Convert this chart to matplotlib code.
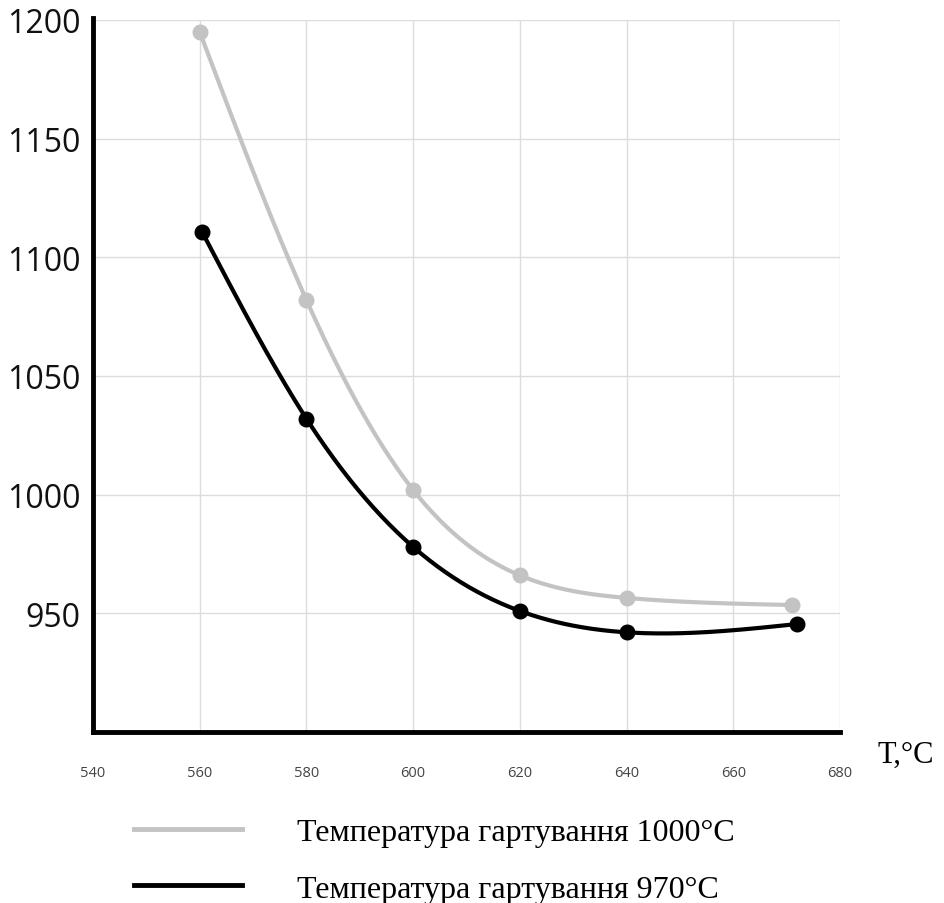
import numpy as np
import matplotlib
matplotlib.use("Agg")
import matplotlib.pyplot as plt
from matplotlib.lines import Line2D

# Data
x_1000 = [560, 580, 600, 620, 640, 671]
y_1000 = [1195, 1082, 1002, 966, 956.5, 953.5]
x_970 = [560.5, 580, 600, 620, 640, 672]
y_970 = [1110.5, 1032, 978, 951, 942, 945.5]

x_ticks = [540, 560, 580, 600, 620, 640, 660, 680]
y_ticks = [950, 1000, 1050, 1100, 1150, 1200]
labels = ["Температура гартування 1000°C", "Температура гартування 970°C"]


def natural_spline(x, y, n=300):
    x = np.asarray(x, float)
    y = np.asarray(y, float)
    k = len(x)
    h = np.diff(x)
    A = np.zeros((k, k))
    b = np.zeros(k)
    A[0, 0] = 1
    A[-1, -1] = 1
    for i in range(1, k - 1):
        A[i, i - 1] = h[i - 1]
        A[i, i] = 2 * (h[i - 1] + h[i])
        A[i, i + 1] = h[i]
        b[i] = 6 * ((y[i + 1] - y[i]) / h[i] - (y[i] - y[i - 1]) / h[i - 1])
    M = np.linalg.solve(A, b)
    xs = np.linspace(x[0], x[-1], n)
    ys = np.empty_like(xs)
    for j, xv in enumerate(xs):
        i = min(np.searchsorted(x, xv) - 1, k - 2)
        i = max(i, 0)
        t1 = x[i + 1] - xv
        t0 = xv - x[i]
        hi = h[i]
        ys[j] = (M[i] * t1 ** 3 / (6 * hi) + M[i + 1] * t0 ** 3 / (6 * hi)
                 + (y[i] / hi - M[i] * hi / 6) * t1
                 + (y[i + 1] / hi - M[i + 1] * hi / 6) * t0)
    return xs, ys


gray = "#c3c3c3"
black = "#000000"

fig = plt.figure(figsize=(9.45, 9.04), dpi=100)
ax = fig.add_axes([93 / 945, 1 - 733 / 904, (840 - 93) / 945, (733 - 21) / 904])

for xs_, ys_, c in [(x_1000, y_1000, gray), (x_970, y_970, black)]:
    sx, sy = natural_spline(xs_, ys_)
    ax.plot(sx, sy, color=c, lw=3, solid_capstyle="round", zorder=3)
    ax.plot(xs_, ys_, "o", color=c, ms=10.5, zorder=4)

ax.set_xlim(540, 680)
ax.set_ylim(900, 1200)
ax.set_xticks(x_ticks)
ax.set_yticks(y_ticks)
ax.set_xticklabels([str(v) for v in x_ticks], fontsize=10.5, color="#444444",
                   family=["Open Sans", "DejaVu Sans"])
ax.set_yticklabels([str(v) for v in y_ticks], fontsize=23, color="#111111",
                   family=["Open Sans", "DejaVu Sans"])
ax.tick_params(axis="both", length=0)
ax.tick_params(axis="x", pad=24)
ax.tick_params(axis="y", pad=9)
ax.grid(True, color="#dcdcdc", lw=1)
ax.set_axisbelow(True)
for s in ["top", "right"]:
    ax.spines[s].set_visible(False)
for s in ["left", "bottom"]:
    ax.spines[s].set_linewidth(3.5)
    ax.spines[s].set_color("black")
ax.spines["left"].set_bounds(900, 1201)

fig.text(878 / 945, 1 - 755 / 904, "T,°C", fontsize=22,
         family=["Liberation Serif", "DejaVu Serif"], va="center", ha="left")

handles = [Line2D([0], [0], color=gray, lw=3.5), Line2D([0], [0], color=black, lw=3.5)]
leg = fig.legend(handles, labels, loc="upper left",
                 bbox_to_anchor=(105 / 945, 1 - 790 / 904),
                 frameon=False, handlelength=3.4, handletextpad=1.7,
                 labelspacing=0.85,
                 prop={"family": ["Liberation Serif", "DejaVu Serif"], "size": 23})

fig.savefig("out.png", dpi=100)
